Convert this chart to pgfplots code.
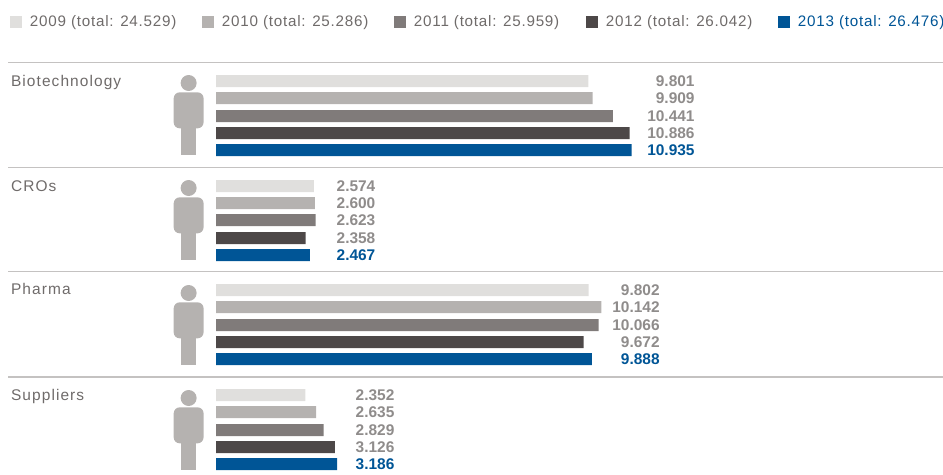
\documentclass[border=0pt]{standalone}
\usepackage{fontspec}
\setmainfont{Liberation Sans}
\usepackage{pgfplots}
\usepackage{pgfplotstable}
\pgfplotsset{compat=1.18}

\definecolor{c2009}{HTML}{E0DFDD}
\definecolor{c2010}{HTML}{B5B2B0}
\definecolor{c2011}{HTML}{807B7A}
\definecolor{c2012}{HTML}{4D4848}
\definecolor{c2013}{HTML}{005596}
\definecolor{txt}{HTML}{6F6B6A}
\definecolor{val}{HTML}{8F8C8B}
\definecolor{rule}{HTML}{C4C2C1}

% y = bar centre (pixels from top), v = value, lx = where the label ends
\pgfplotstableread{
y v lx lab
81 9.801 12.60 9.801
186 2.574 4.20 2.574
290 9.802 11.68 9.802
395 2.352 4.70 2.352
}\ta
\pgfplotstableread{
y v lx lab
98 9.909 12.60 9.909
203 2.600 4.20 2.600
307 10.142 11.68 10.142
412 2.635 4.70 2.635
}\tb
\pgfplotstableread{
y v lx lab
116 10.441 12.60 10.441
220 2.623 4.20 2.623
325 10.066 11.68 10.066
430 2.829 4.70 2.829
}\tc
\pgfplotstableread{
y v lx lab
133 10.886 12.60 10.886
238 2.358 4.20 2.358
342 9.672 11.68 9.672
447 3.126 4.70 3.126
}\td
\pgfplotstableread{
y v lx lab
150 10.935 12.60 10.935
255 2.467 4.20 2.467
359 9.888 11.68 9.888
464 3.186 4.70 3.186
}\te

\newcommand{\series}[3]{%
  \addplot[xbar, bar shift=0pt, bar width=9pt, fill=#2, draw=none] table[x=v, y=y] {#1};
  \addplot[forget plot, only marks, mark=none, point meta=explicit symbolic,
    nodes near coords, nodes near coords align={anchor=east},
    every node near coord/.append style={font=\fontsize{11.6}{12}\selectfont\bfseries, text=#3, inner sep=0pt}]
    table[x=lx, y=y, meta=lab] {#1};
}
% person icon, head centre at (-0.72 in data units, y)
\newcommand{\person}[1]{%
  \fill[c2010] (axis cs:-0.72,#1) circle[radius=6pt];
  \fill[c2010, rounded corners=4.5pt] (axis cs:-0.72,#1) ++(-11.2pt,-7pt) rectangle ++(22.4pt,-27pt);
  \fill[c2010] (axis cs:-0.72,#1) ++(-5.6pt,-25pt) rectangle ++(11.2pt,-29pt);
}
\newcommand{\sep}[1]{\draw[rule, line width=1.1pt] (axis cs:-5.47,#1) -- (axis cs:19.13,#1);}
\newcommand{\cat}[2]{\node[anchor=base west, inner sep=0pt, text=txt, font=\fontsize{11.6}{12}\selectfont] at (axis cs:-5.4,#1) {\addfontfeature{LetterSpace=7}#2};}
\newcommand{\leg}[2]{\makebox[129pt][l]{\textcolor{#1}{\addfontfeature{LetterSpace=5}#2}}}

\begin{document}
\begin{tikzpicture}
\useasboundingbox (0,0) rectangle (707.25pt,356.25pt);
\begin{axis}[
    at={(0,0)},
    anchor=south west,
    scale only axis,
    width=707.25pt,
    height=356.25pt,
    hide axis,
    clip=false,
    xmin=-5.684, xmax=19.13,
    ymin=0, ymax=475,
    y dir=reverse,
    legend columns=5,
    legend cell align=left,
    legend style={
        at={(rel axis cs:0.0106,0.9537)},
        anchor=west,
        draw=none, fill=none,
        inner sep=0pt, outer sep=0pt,
        nodes={inner sep=0pt},
        font=\fontsize{11.4}{12}\selectfont,
        /tikz/every odd column/.append style={column sep=6pt},
    },
    legend image code/.code={\fill[#1] (0pt,-4.5pt) rectangle (9pt,4.5pt);},
]
\series{\ta}{c2009}{val}
\series{\tb}{c2010}{val}
\series{\tc}{c2011}{val}
\series{\td}{c2012}{val}
\series{\te}{c2013}{c2013}
\legend{\leg{txt}{2009 (total: 24.529)},\leg{txt}{2010 (total: 25.286)},\leg{txt}{2011 (total: 25.959)},\leg{txt}{2012 (total: 26.042)},\leg{c2013}{2013 (total: 26.476)}}
\sep{62.5}
\sep{167.5}
\sep{271.5}
\sep{377}
\cat{86}{Biotechnology}
\cat{191}{CROs}
\cat{294}{Pharma}
\cat{400}{Suppliers}
\person{83}
\person{188}
\person{293}
\person{398}
\end{axis}
\end{tikzpicture}
\end{document}
